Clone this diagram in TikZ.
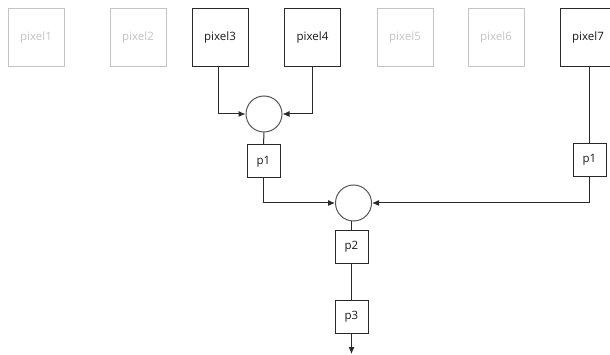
\documentclass[tikz,border=0pt]{standalone}
\usepackage{fontspec}
\setmainfont{Open Sans}
\usetikzlibrary{arrows.meta}
\definecolor{ln}{HTML}{2A2A2A}
\definecolor{faint}{HTML}{C4C4C4}
\tikzset{
  pxbox/.style={draw=ln, line width=1pt, minimum width=56pt, minimum height=58pt, inner sep=0pt, font=\fontsize{11.5}{13}\selectfont, text=black!90},
  pxfaint/.style={pxbox, draw=faint, text=faint},
  pbox/.style={draw=ln, line width=1pt, minimum width=33pt, minimum height=33pt, inner sep=0pt, font=\fontsize{11.5}{13}\selectfont, text=black!90},
  junc/.style={circle, draw=ln!80, line width=1pt, minimum size=36pt, inner sep=0pt},
  conn/.style={draw=ln, line width=1pt},
  arr/.style={conn, -{Latex[length=7pt,width=6pt]}}
}
\begin{document}
\begin{tikzpicture}[x=1pt,y=-1pt]
\useasboundingbox (0,0) rectangle (610,355);
\node[pxfaint] (px1) at (36,38) {pixel1};
\node[pxfaint] (px2) at (138,38) {pixel2};
\node[pxbox] (px3) at (220,38) {pixel3};
\node[pxbox] (px4) at (312.5,38) {pixel4};
\node[pxfaint] (px5) at (405,38) {pixel5};
\node[pxfaint] (px6) at (496,38) {pixel6};
\node[pxbox] (px7) at (588,38) {pixel7};
\node[junc] (c1) at (264,114) {};
\node[pbox] (pa) at (263.5,161.5) {p1};
\node[junc] (c2) at (353.5,203) {};
\node[pbox] (p2) at (351.5,247) {p2};
\node[pbox] (p3) at (351.5,316.5) {p3};
\node[pbox] (pb) at (589.5,160) {p1};
\coordinate (out) at (351.5,354);
\draw[arr] ([xshift=-2pt]px3.south) |- (c1.west);
\draw[arr] (px4.south) |- (c1.east);
\draw[conn] (c1.south) -- (pa.north);
\draw[arr] (pa.south) |- (c2.west);
\draw[conn] (pb.north |- px7.south) -- (pb.north);
\draw[arr] (pb.south) |- (c2.east);
\draw[conn] (c2.south -| p2.north) -- (p2.north);
\draw[conn] (p2.south) -- (p3.north);
\draw[arr] (p3.south) -- (out);
\end{tikzpicture}
\end{document}
